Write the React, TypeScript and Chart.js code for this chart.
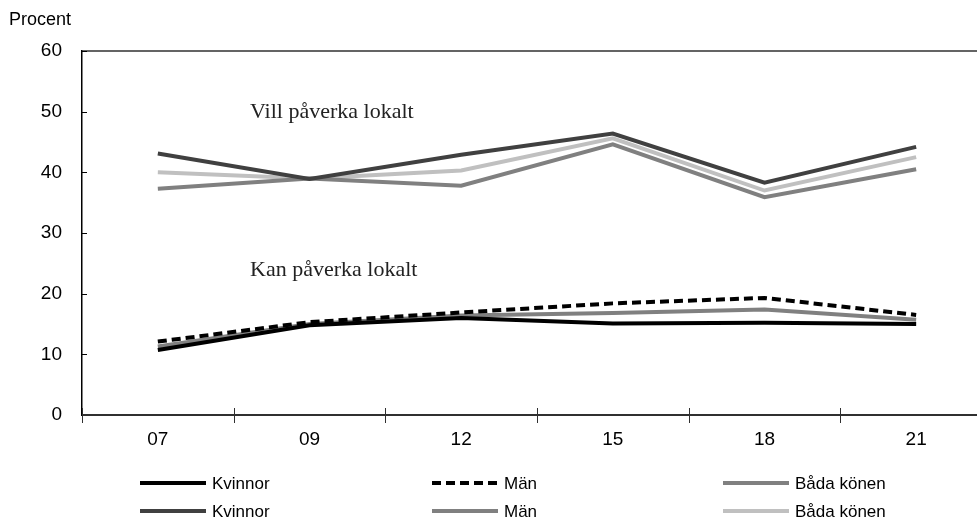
import React, { useEffect, useRef } from "react";
import { Chart, registerables } from "chart.js";

Chart.register(...registerables);

const categories = ["07", "09", "12", "15", "18", "21"];
const yTicks = [0, 10, 20, 30, 40, 50, 60];

const villKvinnor = [43.1, 38.9, 42.9, 46.4, 38.3, 44.2];
const villMan = [37.3, 39.0, 37.8, 44.6, 35.9, 40.5];
const villBada = [40.0, 39.0, 40.3, 45.6, 37.0, 42.5];

const kanKvinnor = [10.7, 14.8, 16.0, 15.1, 15.2, 15.0];
const kanMan = [12.1, 15.3, 16.9, 18.4, 19.3, 16.5];
const kanBada = [11.3, 15.0, 16.4, 16.8, 17.4, 15.7];

const legendLabels = ["Kvinnor", "Män", "Båda könen"];
const annotationVill = "Vill påverka lokalt";
const annotationKan = "Kan påverka lokalt";
const yTitle = "Procent";

const SANS = "'Liberation Sans', Arial, sans-serif";
const SERIF = "'Liberation Serif', 'Times New Roman', serif";

const extrasPlugin = {
  id: "extras",
  afterDraw(chart: any) {
    const ctx = chart.ctx;
    const xs = chart.scales.x;
    const ys = chart.scales.y;
    const area = chart.chartArea;
    ctx.save();
    // top border
    ctx.strokeStyle = "#303030";
    ctx.lineWidth = 1.5;
    ctx.beginPath();
    ctx.moveTo(area.left, area.top);
    ctx.lineTo(area.right, area.top);
    ctx.stroke();
    // y inward ticks
    ctx.strokeStyle = "#000";
    ctx.lineWidth = 1;
    for (const v of yTicks) {
      if (v === 0) continue;
      const y = Math.round(ys.getPixelForValue(v)) + 0.5;
      ctx.beginPath();
      ctx.moveTo(area.left, y);
      ctx.lineTo(area.left + 5, y);
      ctx.stroke();
    }
    // x crossing ticks at category boundaries
    ctx.strokeStyle = "#303030";
    for (let i = 0; i <= categories.length; i++) {
      let x: number;
      if (i === 0) x = area.left;
      else if (i === categories.length) x = area.right;
      else x = (xs.getPixelForValue(i - 1) + xs.getPixelForValue(i)) / 2;
      x = Math.round(x) + 0.5;
      ctx.beginPath();
      ctx.moveTo(x, area.bottom - 7);
      ctx.lineTo(x, area.bottom + 8);
      ctx.stroke();
    }
    // Y title
    ctx.fillStyle = "#000";
    ctx.font = `18px ${SANS}`;
    ctx.textAlign = "left";
    ctx.textBaseline = "middle";
    ctx.fillText(yTitle, 9, 20);
    // annotations
    ctx.font = `22px ${SERIF}`;
    ctx.fillStyle = "#222";
    ctx.fillText(annotationVill, 250, 112);
    ctx.fillText(annotationKan, 250, 270);
    // custom legend
    const ds = chart.data.datasets;
    const colsX = [140, 432, 723];
    const rowsY = [483, 511];
    ctx.font = `17px ${SANS}`;
    ctx.fillStyle = "#000";
    for (let i = 0; i < ds.length; i++) {
      const row = i < 3 ? 0 : 1;
      const col = i % 3;
      const d = ds[i];
      const x0 = colsX[col];
      const y0 = rowsY[row];
      ctx.save();
      ctx.strokeStyle = d.borderColor;
      ctx.lineWidth = 4;
      ctx.setLineDash(d.borderDash || []);
      ctx.beginPath();
      ctx.moveTo(x0, y0);
      ctx.lineTo(x0 + 66, y0);
      ctx.stroke();
      ctx.restore();
      ctx.fillText(d.label, x0 + 72, y0 + 1);
    }
    ctx.restore();
  },
};

export default function App() {
  const ref = useRef<HTMLCanvasElement>(null);
  useEffect(() => {
    if (!ref.current) return;
    const mk = (label: string, data: number[], color: string, dash: number[] = [], order = 0) => ({
      label,
      data,
      borderColor: color,
      backgroundColor: color,
      borderWidth: 4,
      borderDash: dash,
      pointRadius: 0,
      tension: 0,
      fill: false,
      order,
    });
    const chart = new Chart(ref.current, {
      type: "line",
      data: {
        labels: categories,
        datasets: [
          mk(legendLabels[0], kanKvinnor, "#000000", [], 0),
          mk(legendLabels[1], kanMan, "#000000", [9, 5], 1),
          mk(legendLabels[2], kanBada, "#808080", [], 2),
          mk(legendLabels[0], villKvinnor, "#404040", [], 3),
          mk(legendLabels[1], villMan, "#808080", [], 4),
          mk(legendLabels[2], villBada, "#c0c0c0", [], 5),
        ],
      },
      options: {
        responsive: false,
        animation: false,
        devicePixelRatio: 1,
        layout: { padding: { top: 51, left: 0, right: 8, bottom: 0 } },
        plugins: { legend: { display: false }, tooltip: { enabled: false } },
        scales: {
          x: {
            type: "category",
            offset: true,
            grid: { display: false, drawTicks: false },
            border: { display: true, color: "#303030", width: 2 },
            ticks: { color: "#000", font: { family: SANS, size: 19 }, padding: 13, maxRotation: 0 },
            afterFit: (s: any) => { s.height = 107; },
          },
          y: {
            min: 0,
            max: 60,
            grid: { display: false, drawTicks: false },
            border: { display: true, color: "#000", width: 1.5 },
            ticks: { stepSize: 10, color: "#000", font: { family: SANS, size: 19 }, padding: 20 },
            afterFit: (s: any) => { s.width = 82; },
          },
        },
      },
      plugins: [extrasPlugin],
    } as any);
    return () => chart.destroy();
  }, []);
  return (
    <div style={{ position: "fixed", left: 0, top: 0, width: 977, height: 522, overflow: "hidden", background: "#fff" }}>
      <canvas ref={ref} width={1000} height={522} style={{ width: 1000, height: 522, display: "block" }} />
    </div>
  );
}
